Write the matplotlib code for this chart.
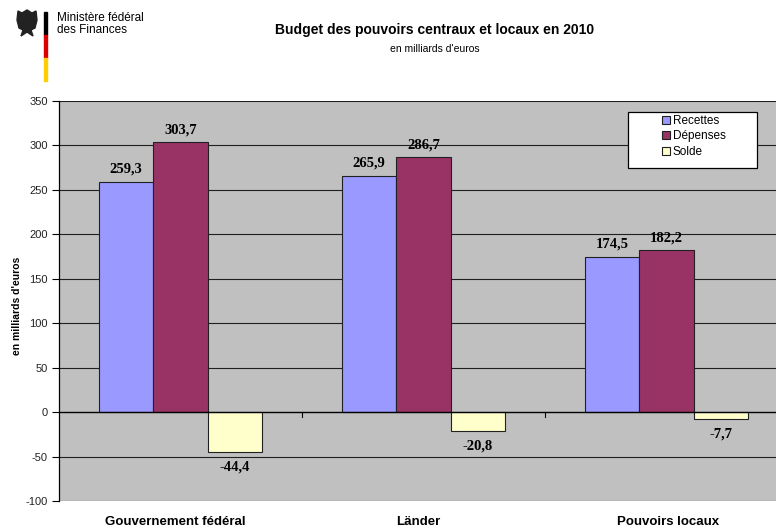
import numpy as np
import matplotlib.pyplot as plt
from matplotlib.patches import Rectangle, Polygon

# Budget 2010, en milliards d'euros
categories = ["Gouvernement fédéral", "Länder", "Pouvoirs locaux"]
series_names = ["Recettes", "Dépenses", "Solde"]
recettes = [259.3, 265.9, 174.5]
depenses = [303.7, 286.7, 182.2]
solde = [-44.4, -20.8, -7.7]
yticks = [-100, -50, 0, 50, 100, 150, 200, 250, 300, 350]

colors = ["#9999FF", "#993366", "#FFFFCC"]
serif_bold = dict(family="Liberation Serif", weight="bold", fontsize=10.5)

W, H = 776, 530
fig = plt.figure(figsize=(W / 100, H / 100), dpi=100)
fig.patch.set_facecolor("white")


def fx(px):
    return px / W


def fy(py):
    return 1 - py / H


# plot area runs past the right edge of the figure
ax = fig.add_axes([fx(59), fy(501), 729 / W, 400 / H])
ax.set_facecolor("#C0C0C0")

x = np.arange(len(categories))
width = 1 / 4.46
for i, (vals, name, col) in enumerate(zip([recettes, depenses, solde], series_names, colors)):
    pos = x + (i - 1) * width
    ax.bar(pos, vals, width, color=col, edgecolor="#202020", linewidth=0.8,
           label=name, zorder=3)
    for px, v in zip(pos, vals):
        txt = f"{v:.1f}".replace(".", ",")
        off = 9 if v >= 0 else -11
        ax.annotate(txt, (px, v), xytext=(0, off), textcoords="offset points",
                    ha="center", va="center", **serif_bold)

ax.set_xlim(-0.5, 2.5)
ax.set_ylim(-100, 350)
ax.set_yticks(yticks)
ax.set_yticklabels([str(t) for t in yticks], fontsize=8, family="Liberation Sans",
                   color="#222222")
ax.tick_params(axis="y", length=5, width=0.8, direction="out", pad=3)
for t in yticks:
    if t != 0:
        ax.axhline(t, color="#202020", linewidth=0.8, zorder=1)
ax.axhline(0, color="#000000", linewidth=1.0, zorder=4)
# category boundary ticks on the zero line
for b in [0.5, 1.5]:
    ax.plot([b, b], [0, -5], color="black", linewidth=0.8, zorder=4, clip_on=False)

ax.set_xticks([])
for s in ["top", "right", "bottom"]:
    ax.spines[s].set_visible(False)
ax.spines["left"].set_linewidth(0.9)
ax.spines["left"].set_zorder(5)

fig.text(fx(17), fy(306), "en milliards d'euros", rotation=90, ha="center", va="center",
         fontsize=7.5, weight="bold", family="Liberation Sans")

# category names below the plot area
for cx, name in zip([175, 418, 668], categories):
    fig.text(fx(cx), fy(522), name, ha="center", va="center",
             fontsize=9.5, weight="bold", family="Liberation Sans")

# legend box
fig.patches.append(Rectangle((fx(628), fy(168)), 129 / W, 56 / H, transform=fig.transFigure,
                             facecolor="white", edgecolor="black", linewidth=0.9, zorder=9))
leg = fig.legend(*ax.get_legend_handles_labels(), loc="upper left",
                 bbox_to_anchor=(fx(659), fy(112)), frameon=False,
                 handlelength=0.65, handleheight=0.65, handletextpad=0.25,
                 borderpad=0.25, labelspacing=0.3, borderaxespad=0,
                 prop={"family": "Liberation Sans", "size": 8.5})
leg.set_zorder(10)

fig.text(fx(435), fy(30), "Budget des pouvoirs centraux et locaux en 2010",
         ha="center", va="center", fontsize=10, family="Liberation Sans", weight="bold")
fig.text(fx(435), fy(49), "en milliards d'euros",
         ha="center", va="center", fontsize=7.5, family="Liberation Sans")

# ministry logo: eagle, flag stripe, name
fig.text(fx(57), fy(24), "Ministère fédéral\ndes Finances", ha="left", va="center",
         fontsize=8.5, family="Liberation Sans", linespacing=1.05)
for y0, y1, c in [(12, 35, "#000000"), (35, 58, "#DD0000"), (58, 81, "#FFCE00")]:
    fig.patches.append(Rectangle((fx(43.5), fy(y1)), 3.5 / W, (y1 - y0) / H,
                                 transform=fig.transFigure, color=c))
eagle = [(22, 13), (27, 10), (32, 13), (36, 11), (37, 20), (35, 28), (31, 30),
         (33, 36), (27, 32), (21, 36), (23, 30), (19, 28), (17, 20), (18, 11)]
fig.patches.append(Polygon([(fx(px), fy(py)) for px, py in eagle],
                           closed=True, transform=fig.transFigure, color="#222222"))

fig.savefig("out.png", dpi=100)
